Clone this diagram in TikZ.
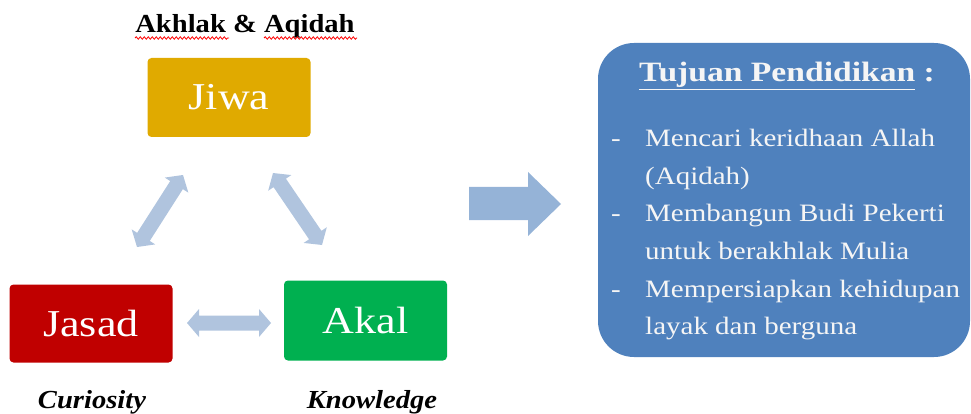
\documentclass[tikz,border=0pt]{standalone}
\usepackage{fontspec}
\setmainfont{Liberation Serif}
\newfontfamily\boxfont[FakeStretch=1.16]{Liberation Serif}
\newfontfamily\lblfont[FakeStretch=1.1]{Liberation Serif}
\newfontfamily\titlefont[FakeStretch=1.2]{Liberation Serif}
\usetikzlibrary{calc,decorations.pathmorphing}
\definecolor{jiwac}{RGB}{224,170,0}
\definecolor{jasadc}{RGB}{192,0,0}
\definecolor{akalc}{RGB}{0,176,80}
\definecolor{arrc}{RGB}{176,196,222}
\definecolor{bigarrc}{RGB}{149,179,215}
\definecolor{boxc}{RGB}{79,129,189}
\definecolor{txtc}{RGB}{245,245,245}
\newcommand\mydblarrow[2]{%
  \coordinate (q1) at ($(#1)!12pt!(#2)$);
  \coordinate (q2) at ($(#2)!12pt!(#1)$);
  \fill[arrc] (#1) -- ($(q1)!14pt!90:(#2)$) -- ($(q1)!7.5pt!90:(#2)$)
    -- ($(q2)!7.5pt!-90:(#1)$) -- ($(q2)!14pt!-90:(#1)$) -- (#2)
    -- ($(q2)!14pt!90:(#1)$) -- ($(q2)!7.5pt!90:(#1)$)
    -- ($(q1)!7.5pt!-90:(#2)$) -- ($(q1)!14pt!-90:(#2)$) -- cycle;}
\tikzset{
  catbox/.style={rounded corners=4pt, text=white, inner sep=0pt,
    font=\boxfont\fontsize{38}{40}\selectfont},
  lbl/.style={anchor=base, inner sep=0pt, font=\lblfont\fontsize{26}{28}\selectfont\bfseries},
  lbli/.style={lbl, font=\lblfont\fontsize{26}{28}\selectfont\bfseries\itshape},
  goal/.style={anchor=base west, inner sep=0pt, text=txtc, font=\boxfont\fontsize{25}{27}\selectfont},
  wavy/.style={red, line width=0.8pt, decorate, decoration={snake, amplitude=1.2pt, segment length=4pt}}
}
\begin{document}
\begin{tikzpicture}[x=1pt,y=-1pt]
\useasboundingbox (0,0) rectangle (971,414);
% three boxes
\node[catbox, fill=jiwac, minimum width=163pt, minimum height=79pt] (jiwa) at (229,97.5) {Jiwa};
\node[catbox, fill=jasadc, minimum width=163pt, minimum height=78pt] (jasad) at (91,323.5) {Jasad};
\node[catbox, fill=akalc, minimum width=163pt, minimum height=80pt] (akal) at (365.5,320.5) {Akal};
% labels
\node[lbl] (akhlak) at (245,33) {Akhlak \& Aqidah};
\draw[wavy] (135,38) -- (229,38);
\draw[wavy] (264,38) -- (357,38);
\node[lbli] (curio) at (92,408) {Curiosity};
\node[lbli] (know) at (372,408) {Knowledge};
% double arrows
\coordinate (a1) at (137,247); \coordinate (a2) at (183,175);
\coordinate (b1) at (273,173); \coordinate (b2) at (322,245);
\coordinate (c1) at (187,323); \coordinate (c2) at (271,323);
\mydblarrow{a1}{a2}
\mydblarrow{b1}{b2}
\mydblarrow{c1}{c2}
% big arrow
\fill[bigarrc] (469,187) -- (528,187) -- (528,172) -- (561,204) -- (528,236) -- (528,220) -- (469,220) -- cycle;
% goal box
\node[fill=boxc, rounded corners=36pt, minimum width=372pt, minimum height=314pt, inner sep=0pt] (tujuan) at (784,200) {};
\node[anchor=base west, inner sep=0pt, text=txtc, font=\titlefont\fontsize{28}{30}\selectfont\bfseries] (title) at (639,82) {\underline{Tujuan Pendidikan}~:};
\foreach \y in {147,222,297} {\node[goal, anchor=base] at (616,\y) {-};}
\node[goal] (g1) at (645,147) {Mencari keridhaan Allah};
\node[goal] (g2) at (645,184.5) {(Aqidah)};
\node[goal] (g3) at (645,222) {Membangun Budi Pekerti};
\node[goal] (g4) at (645,259.5) {untuk berakhlak Mulia};
\node[goal] (g5) at (645,297) {Mempersiapkan kehidupan};
\node[goal] (g6) at (645,334.5) {layak dan berguna};
\end{tikzpicture}
\end{document}
